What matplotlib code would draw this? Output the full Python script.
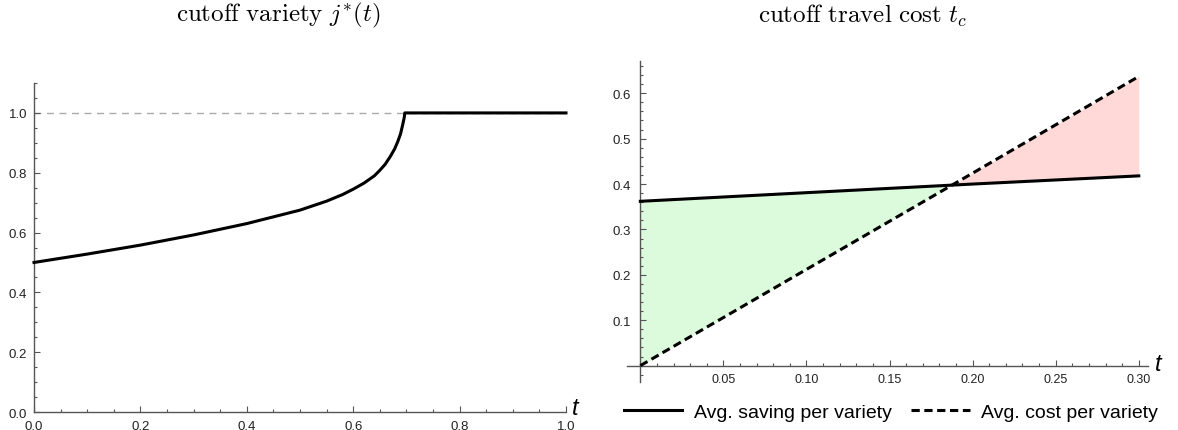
import matplotlib
matplotlib.use("Agg")
import matplotlib.pyplot as plt
from matplotlib.lines import Line2D
from matplotlib.ticker import MultipleLocator, FixedLocator, FormatStrFormatter

plt.rcParams['font.family'] = ['Liberation Sans', 'DejaVu Sans']
plt.rcParams['mathtext.fontset'] = 'cm'

# cutoff variety j*(t)
t_cut = [0.0, 0.1, 0.2, 0.3, 0.4, 0.5, 0.55, 0.58, 0.6, 0.62, 0.64, 0.65, 0.66,
         0.67, 0.678, 0.684, 0.689, 0.693, 0.696, 0.697, 0.75, 1.0]
j_cut = [0.5, 0.528, 0.558, 0.592, 0.63, 0.675, 0.705, 0.727, 0.745, 0.765, 0.79,
         0.808, 0.828, 0.855, 0.88, 0.905, 0.93, 0.96, 0.985, 1.0, 1.0, 1.0]
j_cap = 1.0

# average saving vs average travel cost per variety
t_cost = [0.0, 0.1, 0.2, 0.3]
saving = [0.362, 0.381, 0.400, 0.418]
cost = [0.0, 0.212, 0.424, 0.637]

AXIS_COLOR = '#555555'
TICK_COLOR = '#222222'
GREEN = '#dcfadc'
PINK = '#ffd8d8'


def style_axes(ax):
    for side in ['top', 'right']:
        ax.spines[side].set_visible(False)
    for side in ['left', 'bottom']:
        ax.spines[side].set_color(AXIS_COLOR)
        ax.spines[side].set_linewidth(1.0)
    ax.tick_params(which='both', direction='in', color=AXIS_COLOR, width=0.8,
                   labelcolor=TICK_COLOR, labelsize=9.5)
    ax.tick_params(which='major', length=4.5, pad=5)
    ax.tick_params(which='minor', length=2.5)


fig = plt.figure(figsize=(11.78, 4.31), dpi=100)

# left panel
ax1 = fig.add_axes([0.02886, 0.04176, 0.4516, 0.7633])
style_axes(ax1)
ax1.set_xlim(0, 1)
ax1.set_ylim(0, 1.1)
ax1.xaxis.set_major_locator(MultipleLocator(0.2))
ax1.xaxis.set_minor_locator(MultipleLocator(0.05))
ax1.yaxis.set_major_locator(FixedLocator([0, 0.2, 0.4, 0.6, 0.8, 1.0]))
ax1.yaxis.set_minor_locator(MultipleLocator(0.05))
ax1.xaxis.set_major_formatter(FormatStrFormatter('%.1f'))
ax1.yaxis.set_major_formatter(FormatStrFormatter('%.1f'))
ax1.tick_params(axis='x', which='major', pad=6)
ax1.axhline(j_cap, color='#aaaaaa', lw=1.0, dashes=(5, 4), zorder=1)
ax1.plot(t_cut, j_cut, color='black', lw=2.2, solid_joinstyle='round',
         clip_on=False, zorder=3)
ax1.text(1.012, -0.02, 't', transform=ax1.transAxes, fontsize=17,
         style='italic', ha='left', va='bottom')

# right panel
ax2 = fig.add_axes([0.5323, 0.1114, 0.4423, 0.7447])
style_axes(ax2)
ax2.set_xlim(-0.008, 0.3056)
ax2.set_ylim(-0.036, 0.671)
ax2.spines['left'].set_position(('data', 0))
ax2.spines['bottom'].set_position(('data', 0))
ax2.xaxis.set_major_locator(FixedLocator([0.05, 0.10, 0.15, 0.20, 0.25, 0.30]))
ax2.xaxis.set_minor_locator(MultipleLocator(0.01))
ax2.yaxis.set_major_locator(FixedLocator([0.1, 0.2, 0.3, 0.4, 0.5, 0.6]))
ax2.yaxis.set_minor_locator(MultipleLocator(0.02))
ax2.xaxis.set_major_formatter(FormatStrFormatter('%.2f'))
ax2.yaxis.set_major_formatter(FormatStrFormatter('%.1f'))
ax2.tick_params(axis='x', which='major', labelsize=9)
ax2.tick_params(axis='y', which='major', pad=7)
ax2.fill_between(t_cost, saving, cost, where=[s >= c for s, c in zip(saving, cost)],
                 interpolate=True, color=GREEN, lw=0, zorder=1)
ax2.fill_between(t_cost, saving, cost, where=[s <= c for s, c in zip(saving, cost)],
                 interpolate=True, color=PINK, lw=0, zorder=1)
ax2.plot(t_cost, saving, color='black', lw=2.2, zorder=3)
ax2.plot(t_cost, cost, color='black', lw=2.2, dashes=(2.7, 1.5), zorder=3)
ax2.text(1.014, 0.058, 't', transform=ax2.transAxes, fontsize=17,
         style='italic', ha='left', va='center')

# panel titles
fig.text(0.236, 0.963, r'$\mathrm{cutoff\ variety}\ j^{*}(t)$', fontsize=18,
         ha='center', va='center')
fig.text(0.732, 0.963, r'$\mathrm{cutoff\ travel\ cost}\ t_c$', fontsize=18,
         ha='center', va='center')

handles = [Line2D([], [], color='black', lw=2.2),
           Line2D([], [], color='black', lw=2.2, dashes=(2.7, 1.5))]
fig.legend(handles, ['Avg. saving per variety', 'Avg. cost per variety'],
           loc='center', bbox_to_anchor=(0.7565, 0.042), ncol=2, frameon=False,
           fontsize=14, handlelength=3.0, handletextpad=0.6, columnspacing=1.0,
           borderpad=0, borderaxespad=0)

fig.savefig('out.png', dpi=100)
